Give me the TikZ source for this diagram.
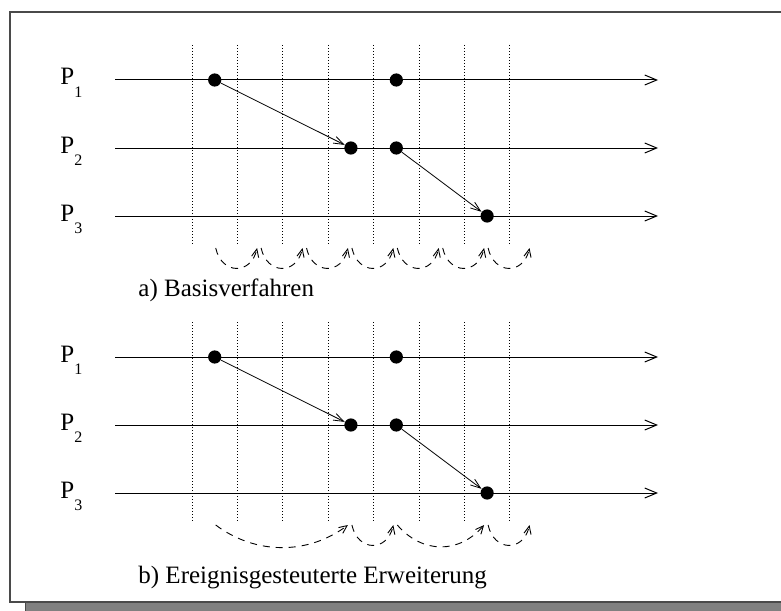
\documentclass[tikz,border=0pt]{standalone}
\usepackage{fontspec}
\setmainfont{Liberation Serif}
\usetikzlibrary{arrows.meta}
\definecolor{framegray}{HTML}{4A4A4A}
\definecolor{shadowgray}{HTML}{808080}
\newcommand{\proc}[1]{P\raisebox{-6pt}{\fontsize{8}{9}\selectfont #1}}
\tikzset{
  lab/.style={font=\fontsize{12.5}{15}\selectfont,inner sep=0pt},
  ev/.style={circle,fill=black,inner sep=0pt,minimum size=6.6pt},
  proc/.style={-{Straight Barb[length=6pt,width=5pt]},line width=0.5pt},
  msg/.style={-{Straight Barb[length=5pt,width=3.6pt]},line width=0.4pt},
  tick/.style={line width=0.5pt,dash pattern=on 0.5pt off 1pt},
  hop/.style={-{Straight Barb[length=4pt,width=3.6pt]},line width=0.45pt,
    dash pattern=on 3.5pt off 3pt},
}

\begin{document}
\begin{tikzpicture}[x=0.5pt,y=-0.5pt]
\clip (0,0) rectangle (781,610);
% ---- frame with shadow ----
\filldraw[draw=framegray,fill=shadowgray] (25,20) rectangle (800,611);
\draw[framegray,fill=white,line width=1pt] (10,12) rectangle (796,602);

% ---- both panels: processes, rounds, events ----
\foreach \pan/\dy in {a/0,b/277}{
  \begin{scope}[shift={(0,\dy)}]
    \foreach \k in {0,...,7}{
      \draw[tick] (192+45.4*\k,45) -- (192+45.4*\k,246);
      \coordinate (\pan-h\k) at (214.7+45.4*\k,248);
    }
    \foreach \i/\y in {1/80,2/148,3/216}{
      \node[lab,anchor=base west] (\pan-l\i) at (60,\y+5) {\proc{\i}};
      \coordinate (\pan-s\i) at (115,\y);
      \coordinate (\pan-e\i) at (658,\y);
      \draw[proc] (\pan-s\i) -- (\pan-e\i);
    }
    \node[ev] (\pan-p1a) at (214.7,80) {};
    \node[ev] (\pan-p1b) at (396.3,80) {};
    \node[ev] (\pan-p2a) at (350.9,148) {};
    \node[ev] (\pan-p2b) at (396.3,148) {};
    \node[ev] (\pan-p3a) at (487.1,216) {};
    \draw[msg] (\pan-p1a) -- (\pan-p2a);
    \draw[msg] (\pan-p2b) -- (\pan-p3a);
  \end{scope}
}

% ---- a) one hop per round ----
\foreach \k [count=\n] in {0,...,6}{
  \draw[hop] ([xshift=0.5pt]a-h\k) .. controls +(6,27) and +(-6,27) .. ([xshift=-1.5pt]a-h\n);
}
\node[lab,anchor=base west] (capa) at (138,296) {a) Basisverfahren};

% ---- b) hops only between events ----
\draw[hop] ([xshift=0.5pt]b-h0) .. controls +(40,30) and +(-40,30) .. ([xshift=-1.5pt]b-h3);
\draw[hop] ([xshift=0.5pt]b-h3) .. controls +(6,27) and +(-6,27) .. ([xshift=-1.5pt]b-h4);
\draw[hop] ([xshift=0.5pt]b-h4) .. controls +(25,29) and +(-25,29) .. ([xshift=-1.5pt]b-h6);
\draw[hop] ([xshift=0.5pt]b-h6) .. controls +(6,27) and +(-6,27) .. ([xshift=-1.5pt]b-h7);
\node[lab,anchor=base west] (capb) at (138,583) {b) Ereignisgesteuterte Erweiterung};
\end{tikzpicture}
\end{document}
